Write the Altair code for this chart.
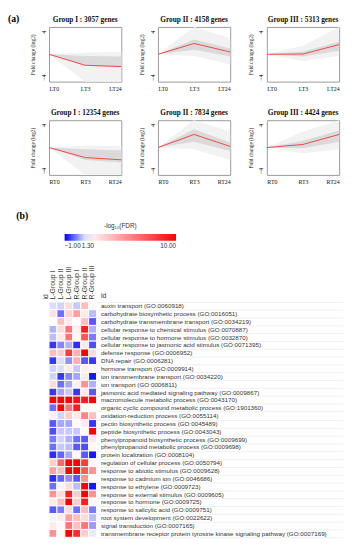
import altair as alt
import pandas as pd

# ---------------- (a) expression profiles ----------------
times_lt = ["LT0", "LT3", "LT24"]
times_rt = ["RT0", "RT3", "RT24"]

titles_lt = ["Group I : 3057 genes", "Group II : 4158 genes", "Group III : 5313 genes"]
titles_rt = ["Group I : 12354 genes", "Group II : 7834 genes", "Group III : 4424 genes"]

# mean profile (red line), log2 fold change
mean_lt_g1 = [0.0, -1.93, -2.15]
mean_lt_g2 = [0.0, 1.9, 0.4]
mean_lt_g3 = [0.0, 0.05, 1.7]
mean_rt_g1 = [0.0, -1.75, -2.15]
mean_rt_g2 = [0.0, 2.3, 0.2]
mean_rt_g3 = [0.0, 0.55, 2.3]

# envelope of the individual gene profiles (light outer band, dense inner band)
outer_lo_lt_g1 = [0, -4.8, -4.8]; outer_hi_lt_g1 = [0, 0.3, 0.4]
inner_lo_lt_g1 = [0, -2.0, -2.3]; inner_hi_lt_g1 = [0, -0.3, -0.4]
outer_lo_lt_g2 = [0, -0.3, -1.8]; outer_hi_lt_g2 = [0, 4.8, 2.8]
inner_lo_lt_g2 = [0, 0.8, -0.4]; inner_hi_lt_g2 = [0, 2.6, 1.0]
outer_lo_lt_g3 = [0, -1.2, -0.3]; outer_hi_lt_g3 = [0, 1.5, 4.8]
inner_lo_lt_g3 = [0, -0.4, 0.6]; inner_hi_lt_g3 = [0, 0.5, 2.2]
outer_lo_rt_g1 = [0, -4.8, -4.8]; outer_hi_rt_g1 = [0, 0.3, 0.3]
inner_lo_rt_g1 = [0, -2.2, -2.6]; inner_hi_rt_g1 = [0, -0.3, -0.5]
outer_lo_rt_g2 = [0, -0.3, -2.2]; outer_hi_rt_g2 = [0, 4.8, 2.8]
inner_lo_rt_g2 = [0, 1.0, -0.6]; inner_hi_rt_g2 = [0, 3.2, 0.9]
outer_lo_rt_g3 = [0, -1.0, -0.3]; outer_hi_rt_g3 = [0, 2.8, 4.8]
inner_lo_rt_g3 = [0, -0.1, 1.0]; inner_hi_rt_g3 = [0, 1.2, 3.0]

y_ticks = [-4, -2, 0, 2, 4]

# ---------------- (b) GO enrichment heatmap ----------------
conditions = ["L-Group I", "L-Group II", "L-Group III", "R-Group I", "R-Group II", "R-Group III"]
go_terms = [
    "auxin transport (GO:0060918)",
    "carbohydrate biosynthetic process (GO:0016051)",
    "carbohydrate transmembrane transport (GO:0034219)",
    "cellular response to chemical stimulus (GO:0070887)",
    "cellular response to hormone stimulus (GO:0032870)",
    "cellular response to jasmonic acid stimulus (GO:0071395)",
    "defense response (GO:0006952)",
    "DNA repair (GO:0006281)",
    "hormone transport (GO:0009914)",
    "ion transmembrane transport (GO:0034220)",
    "ion transport (GO:0006811)",
    "jasmonic acid mediated signaling pathway (GO:0009867)",
    "macromolecule metabolic process (GO:0043170)",
    "organic cyclic compound metabolic process (GO:1901360)",
    "oxidation-reduction process (GO:0055114)",
    "pectin biosynthetic process (GO:0045489)",
    "peptide biosynthetic process (GO:0043043)",
    "phenylpropanoid biosynthetic process (GO:0009699)",
    "phenylpropanoid metabolic process (GO:0009698)",
    "protein localization (GO:0008104)",
    "regulation of cellular process (GO:0050794)",
    "response to abiotic stimulus (GO:0009628)",
    "response to cadmium ion (GO:0046686)",
    "response to ethylene (GO:0009723)",
    "response to external stimulus (GO:0009605)",
    "response to hormone (GO:0009725)",
    "response to salicylic acid (GO:0009751)",
    "root system development (GO:0022622)",
    "signal transduction (GO:0007165)",
    "transmembrane receptor protein tyrosine kinase signaling pathway (GO:0007169)",
]
# -log10(FDR) per condition, same order as go_terms
l_group1 = [1.0, 2.3, 1.4, 0.6, 0.7, -0.5, 3.5, -0.5, 0.9, 0.9, 2.5, -0.5, 10, 0.0, 1.8,
            -0.2, -0.3, 0.1, 0.0, -0.6, 3.0, 4.5, -0.6, 0.0, 5.0, 2.0, -0.2, 1.2, 2.0, 5.0]
l_group2 = [0.9, 0.0, 3.5, 2.5, 2.0, 0.2, 3.0, 1.0, 1.0, -0.5, 0.0, 0.5, 10, 10, 0.9,
            0.5, 0.8, 0.9, 0.8, -0.1, 6.5, 3.5, -0.1, 1.2, 2.5, 3.5, 0.1, 2.0, 1.5, 1.5]
l_group3 = [2.5, 2.8, 2.0, 6.0, 6.0, 0.6, 8.0, 0.3, 2.0, 0.2, 0.5, 0.8, 10, 6.0, 3.0,
            0.5, 0.8, 0.6, 0.7, 0.5, 10, 10, 0.3, 2.5, 9.0, 10, 2.5, 4.5, 6.0, 10]
r_group1 = [0.8, 4.5, 1.3, 1.8, 1.6, -0.6, 4.0, 4.0, 0.8, 0.5, 1.8, -0.5, 9.5, 9.0, 2.0,
            1.5, 0.8, 0.0, -0.2, 1.5, 10, 10, -0.2, 0.7, 3.0, 3.0, 0.0, 3.5, 3.5, 8.5]
r_group2 = [3.5, 2.0, 3.5, 9.0, 7.0, 2.0, 10, -0.2, 1.8, 2.0, 5.0, 2.0, 9.0, 1.5, 5.5,
            2.0, 1.5, -0.2, -0.3, -0.2, 8.0, 7.0, 5.0, 10, 10, 9.0, 3.5, 2.5, 6.0, 3.0]
r_group3 = [1.5, 0.7, -0.2, 0.6, 0.1, -0.3, 2.5, -0.5, 1.5, -0.8, 0.6, -0.2, 10, 1.3, 3.5,
            -0.5, 10, 2.0, 1.6, -0.8, 1.5, 5.0, 1.3, -0.8, 5.0, 1.5, 0.1, 0.7, 0.4, 1.1]

SERIF = "Liberation Serif"
SANS = "Liberation Sans"


def panel(times, mean, olo, ohi, ilo, ihi, title):
    df = pd.DataFrame({"t": times, "mean": mean, "olo": olo, "ohi": ohi,
                       "ilo": ilo, "ihi": ihi})
    xenc = alt.X("t:N", sort=times, scale=alt.Scale(padding=0),
                 axis=alt.Axis(title=None, labelAngle=0, ticks=False, domain=False,
                               labelFont=SERIF, labelFontSize=6, labelColor="#111",
                               labelPadding=4, labelFlush=True))
    ysc = alt.Scale(domain=[-4.8, 4.8], nice=False)
    yaxis = alt.Axis(title="Fold change (log2)", values=y_ticks, labelAngle=270,
                     labelAlign="center", labelBaseline="bottom", ticks=False,
                     domain=False, labelFont=SERIF, labelFontSize=6, labelColor="#000",
                     labelPadding=3, labelOverlap=False, labelFlush=False,
                     titleFont=SERIF, titleFontSize=5.5,
                     titleFontWeight="normal", titleColor="#222", titlePadding=4.5)
    base = alt.Chart(df)
    outer = base.mark_area(color="#f2f2f2").encode(
        x=xenc, y=alt.Y("olo:Q", scale=ysc, axis=yaxis), y2="ohi:Q")
    inner = base.mark_area(color="#dadada").encode(
        x=xenc, y=alt.Y("ilo:Q", scale=ysc), y2="ihi:Q")
    line = base.mark_line(color="#f04848", strokeWidth=1).encode(
        x=xenc, y=alt.Y("mean:Q", scale=ysc))
    return alt.layer(outer, inner, line).properties(
        width=74, height=56,
        title=alt.Title(title, font=SERIF, fontSize=7.5, fontWeight="bold",
                        color="#111", offset=4))


row1 = alt.hconcat(
    panel(times_lt, mean_lt_g1, outer_lo_lt_g1, outer_hi_lt_g1, inner_lo_lt_g1, inner_hi_lt_g1, titles_lt[0]),
    panel(times_lt, mean_lt_g2, outer_lo_lt_g2, outer_hi_lt_g2, inner_lo_lt_g2, inner_hi_lt_g2, titles_lt[1]),
    panel(times_lt, mean_lt_g3, outer_lo_lt_g3, outer_hi_lt_g3, inner_lo_lt_g3, inner_hi_lt_g3, titles_lt[2]),
    spacing=15.5)
row2 = alt.hconcat(
    panel(times_rt, mean_rt_g1, outer_lo_rt_g1, outer_hi_rt_g1, inner_lo_rt_g1, inner_hi_rt_g1, titles_rt[0]),
    panel(times_rt, mean_rt_g2, outer_lo_rt_g2, outer_hi_rt_g2, inner_lo_rt_g2, inner_hi_rt_g2, titles_rt[1]),
    panel(times_rt, mean_rt_g3, outer_lo_rt_g3, outer_hi_rt_g3, inner_lo_rt_g3, inner_hi_rt_g3, titles_rt[2]),
    spacing=15.5)

block_a = alt.vconcat(row1, row2, spacing=16.5).properties(
    title=alt.Title("(a)", font=SERIF, fontSize=10, fontWeight="bold", color="#000",
                    anchor="start", offset=-9, dx=-23))

# heatmap data (long form built from the columns above)
cols = [l_group1, l_group2, l_group3, r_group1, r_group2, r_group3]
rows = []
for cname, vals in zip(conditions, cols):
    for term, v in zip(go_terms, vals):
        rows.append({"cond": cname, "term": term, "v": v})
hdf = pd.DataFrame(rows)

heat = alt.Chart(hdf, view=alt.ViewBackground(stroke="transparent")).mark_rect(
    stroke="white", strokeWidth=1).encode(
    x=alt.X("cond:N", sort=conditions,
            axis=alt.Axis(orient="top", title="id", labelAngle=270, labelAlign="left",
                          labelBaseline="middle", ticks=False, domain=False,
                          labelFont=SANS, labelFontSize=7, labelColor="#333",
                          labelPadding=3, titleAngle=270, titleAlign="left",
                          titleBaseline="middle", titleX=-3.5, titleY=-3,
                          titleFont=SANS, titleFontSize=7, titleFontWeight="normal",
                          titleColor="#333")),
    y=alt.Y("term:N", sort=go_terms,
            axis=alt.Axis(orient="right", title="id", titleAngle=0, titleAlign="left",
                          titleBaseline="bottom", titleX=4, titleY=-3,
                          titleFont=SANS, titleFontSize=7, titleFontWeight="normal",
                          titleColor="#333", domain=False, tickBand="extent",
                          tickSize=252, tickColor="#ececec", tickWidth=0.8,
                          labelPadding=-248, labelFont=SANS, labelFontSize=6.4,
                          labelColor="#333", labelLimit=0)),
    color=alt.Color("v:Q",
                    scale=alt.Scale(domain=[-1, 1.3, 10], interpolate="rgb",
                                    range=["#0000ff", "#ffffff", "#ff0000"]),
                    legend=alt.Legend(orient="none", legendX=16, legendY=-81,
                                      direction="horizontal", gradientLength=114,
                                      gradientThickness=7, title="-log₁₀(FDR)",
                                      titleAnchor="middle", titleFont=SANS,
                                      titleFontSize=6.5, titleFontWeight="normal",
                                      titleColor="#333", titlePadding=5,
                                      values=[-1, 1.3, 10], format=".2f",
                                      labelFont=SANS, labelFontSize=6.5,
                                      labelColor="#333", labelOffset=2,
                                      labelAlign="center", gradientStrokeWidth=0)),
).properties(
    width=48.6, height=241,
    title=alt.Title("(b)", font=SERIF, fontSize=10, fontWeight="bold", color="#000",
                    anchor="start", offset=2, dx=-26))

chart = alt.vconcat(block_a, heat, spacing=25.5).resolve_legend(
    color="independent").resolve_scale(color="independent").properties(
    padding=0).configure_view(
    stroke="#9a9a9a", strokeWidth=1).configure_axis(grid=False)

chart.save("out.html", embed_options={"renderer": "svg", "actions": False})
